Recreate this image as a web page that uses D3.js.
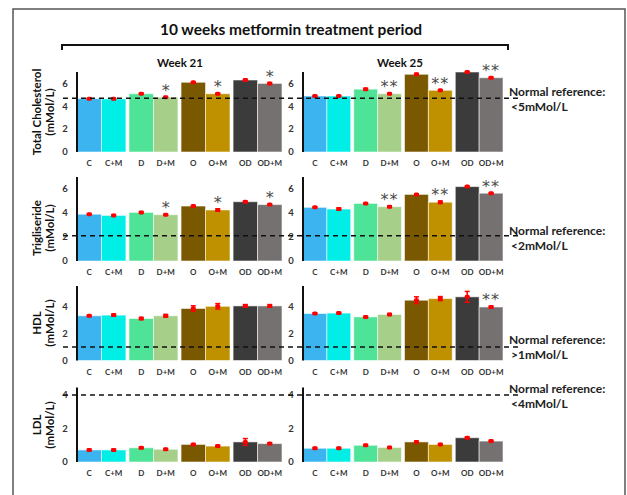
<!DOCTYPE html>
<html>
<head>
<meta charset="utf-8">
<script src="https://cdn.jsdelivr.net/npm/d3@7"></script>
<style>
  html, body { margin: 0; padding: 0; background: #fff; }
  svg { display: block; font-family: Lato, "Open Sans", sans-serif; }
</style>
</head>
<body>
<div id="chart"></div>
<script>
// groups and colours
const groups = ['C', 'C+M', 'D', 'D+M', 'O', 'O+M', 'OD', 'OD+M'];
const groupColors = ['#3cb4f0', '#00eee6', '#4ee396', '#a6d08a', '#7a5800', '#bf9000', '#3b3b3b', '#767171'];
const weeks = ['Week 21', 'Week 25'];

// total cholesterol (mMol/L)
const chol21 = [4.67, 4.65, 5.1, 4.8, 6.1, 5.1, 6.3, 6.0];
const chol25 = [4.9, 4.9, 5.5, 5.1, 6.8, 5.4, 7.0, 6.5];
const cholErr21 = [0.05, 0.05, 0.05, 0.05, 0.05, 0.05, 0.08, 0.08];
const cholErr25 = [0.05, 0.05, 0.08, 0.05, 0.08, 0.05, 0.05, 0.05];
const cholStars21 = ['', '', '', '*', '', '*', '', '*'];
const cholStars25 = ['', '', '', '**', '', '**', '', '**'];

// trigliseride
const trig21 = [3.9, 3.8, 4.05, 3.86, 4.58, 4.25, 4.94, 4.7];
const trig25 = [4.47, 4.33, 4.8, 4.53, 5.55, 4.9, 6.2, 5.65];
const trigErr21 = [0.05, 0.07, 0.07, 0.05, 0.05, 0.1, 0.05, 0.05];
const trigErr25 = [0.05, 0.1, 0.05, 0.07, 0.05, 0.1, 0.05, 0.05];
const trigStars21 = ['', '', '', '*', '', '*', '', '*'];
const trigStars25 = ['', '', '', '**', '', '**', '', '**'];

// HDL
const hdl21 = [3.3, 3.35, 3.1, 3.3, 3.84, 4.0, 4.03, 4.03];
const hdl25 = [3.47, 3.5, 3.22, 3.4, 4.45, 4.57, 4.7, 3.95];
const hdlErr21 = [0.05, 0.08, 0.08, 0.1, 0.2, 0.2, 0.1, 0.1];
const hdlErr25 = [0.05, 0.05, 0.05, 0.07, 0.25, 0.15, 0.4, 0.07];
const hdlStars21 = ['', '', '', '', '', '', '', ''];
const hdlStars25 = ['', '', '', '', '', '', '', '**'];

// LDL
const ldl21 = [0.72, 0.72, 0.85, 0.76, 1.05, 0.95, 1.2, 1.1];
const ldl25 = [0.82, 0.82, 1.0, 0.87, 1.2, 1.05, 1.45, 1.25];
const ldlErr21 = [0.05, 0.05, 0.05, 0.05, 0.05, 0.05, 0.2, 0.05];
const ldlErr25 = [0.05, 0.05, 0.05, 0.05, 0.05, 0.05, 0.05, 0.05];
const ldlStars21 = ['', '', '', '', '', '', '', ''];
const ldlStars25 = ['', '', '', '', '', '', '', ''];

// axis and reference settings
const panelTitles = [['Total Cholesterol', '(mMol/L)'], ['Trigliseride', '(mMol/L)'], ['HDL', '(mMol/L)'], ['LDL', '(mMol/L)']];
const panelMax = [7, 7, 5.5, 4.45];
const panelTicks = [[0, 2, 4, 6], [0, 2, 4, 6], [0, 2, 4], [0, 2, 4]];
const refValues = [4.7, 2.1, 1.0, 4.0];
const refLabels = ['<5mMol/L', '<2mMol/L', '>1mMol/L', '<4mMol/L'];

const panels = [
  { values: [chol21, chol25], errs: [cholErr21, cholErr25], stars: [cholStars21, cholStars25] },
  { values: [trig21, trig25], errs: [trigErr21, trigErr25], stars: [trigStars21, trigStars25] },
  { values: [hdl21, hdl25], errs: [hdlErr21, hdlErr25], stars: [hdlStars21, hdlStars25] },
  { values: [ldl21, ldl25], errs: [ldlErr21, ldlErr25], stars: [ldlStars21, ldlStars25] }
];

// layout
const width = 627, height = 495;
const rows = [
  { zero: 152, top: 72, titleY: 112, refY1: 92 },
  { zero: 261, top: 177, titleY: 228, refY1: 231 },
  { zero: 360.5, top: 286, titleY: 323, refY1: 340 },
  { zero: 462, top: 387.5, titleY: 425, refY1: 389 }
];
const cols = [[77, 282], [303, 503]];

const svg = d3.select('#chart').append('svg')
  .attr('width', width)
  .attr('height', height);

/* ---------- frame ---------- */
svg.append('rect')
  .attr('x', 13).attr('y', 9)
  .attr('width', 612).attr('height', 500)
  .attr('fill', 'none')
  .attr('stroke', '#555')
  .attr('stroke-width', 1.5);

/* ---------- header ---------- */
svg.append('text')
  .attr('x', 291).attr('y', 35)
  .attr('text-anchor', 'middle')
  .attr('font-size', 15.5)
  .attr('font-weight', 'bold')
  .attr('fill', '#111')
  .text('10 weeks metformin treatment period');

svg.append('path')
  .attr('d', 'M62,50 L62,45 L508,45 L508,50')
  .attr('fill', 'none')
  .attr('stroke', '#111')
  .attr('stroke-width', 2);

cols.forEach((c, wi) => {
  svg.append('text')
    .attr('x', wi === 0 ? 180 : 400).attr('y', 67)
    .attr('text-anchor', 'middle')
    .attr('font-size', 11.5)
    .attr('font-weight', 'bold')
    .attr('fill', '#111')
    .text(weeks[wi]);
});

const pairs = [0, 1, 2, 3];

panels.forEach((p, pi) => {
  const row = rows[pi];
  const y = d3.scaleLinear().domain([0, panelMax[pi]]).range([row.zero, row.top]);

  // y title
  const tg = svg.append('g')
    .attr('transform', 'translate(43,' + row.titleY + ') rotate(-90)');
  tg.append('text')
    .attr('text-anchor', 'middle')
    .attr('y', -2)
    .attr('font-size', 11.5)
    .attr('font-weight', 'bold')
    .attr('fill', '#111')
    .text(panelTitles[pi][0]);
  tg.append('text')
    .attr('text-anchor', 'middle')
    .attr('y', 11)
    .attr('font-size', 11.5)
    .attr('font-weight', 'bold')
    .attr('fill', '#111')
    .text(panelTitles[pi][1]);

  cols.forEach((range, wi) => {
    const pairScale = d3.scaleBand().domain(pairs).range(range).paddingInner(0.06).paddingOuter(0);
    const inner = d3.scaleBand().domain([0, 1]).range([0, pairScale.bandwidth()]);
    const xPos = i => pairScale(Math.floor(i / 2)) + inner(i % 2);
    const bw = inner.bandwidth();
    const g = svg.append('g');
    const vals = p.values[wi], errs = p.errs[wi], stars = p.stars[wi];

    // bars
    g.selectAll('rect.bar')
      .data(vals)
      .enter().append('rect')
      .attr('class', 'bar')
      .attr('x', (d, i) => xPos(i))
      .attr('y', d => y(d))
      .attr('width', bw)
      .attr('height', d => y(0) - y(d))
      .attr('fill', (d, i) => groupColors[i])
      .attr('stroke', 'rgba(255,255,255,0.55)')
      .attr('stroke-width', 1);

    // y axis line + tick labels
    g.append('line')
      .attr('x1', range[0]).attr('x2', range[0])
      .attr('y1', y(0)).attr('y2', y(panelMax[pi]))
      .attr('stroke', '#111')
      .attr('stroke-width', 2);

    g.selectAll('text.tick')
      .data(panelTicks[pi])
      .enter().append('text')
      .attr('class', 'tick')
      .attr('x', range[0] - 12)
      .attr('y', d => y(d))
      .attr('dy', '0.35em')
      .attr('text-anchor', 'middle')
      .attr('font-size', 9.5)
      .attr('font-weight', 'bold')
      .attr('fill', '#333')
      .text(d => d);

    // group labels
    g.selectAll('text.cat')
      .data(groups)
      .enter().append('text')
      .attr('class', 'cat')
      .attr('x', (d, i) => xPos(i) + bw / 2)
      .attr('y', y(0) + 14)
      .attr('text-anchor', 'middle')
      .attr('font-size', 8)
      .attr('font-weight', 'bold')
      .attr('fill', '#333')
      .text(d => d);

    // error bars
    vals.forEach((v, i) => {
      const cx = xPos(i) + bw / 2;
      const e = errs[i];
      g.append('line')
        .attr('x1', cx).attr('x2', cx)
        .attr('y1', y(v + e)).attr('y2', y(v - e))
        .attr('stroke', '#f00').attr('stroke-width', 1.5);
      g.append('line')
        .attr('x1', cx - 2.5).attr('x2', cx + 2.5)
        .attr('y1', y(v + e)).attr('y2', y(v + e))
        .attr('stroke', '#f00').attr('stroke-width', 1.5);
      g.append('line')
        .attr('x1', cx - 2.5).attr('x2', cx + 2.5)
        .attr('y1', y(v - e)).attr('y2', y(v - e))
        .attr('stroke', '#f00').attr('stroke-width', 1.5);
      g.append('rect')
        .attr('x', cx - 2.5).attr('y', y(v) - 2)
        .attr('width', 5).attr('height', 4)
        .attr('rx', 1.5)
        .attr('fill', '#f00');

      if (stars[i]) {
        g.append('text')
          .attr('x', cx)
          .attr('y', y(v + e) - 1)
          .attr('text-anchor', 'middle')
          .attr('font-family', '"DejaVu Sans", sans-serif')
          .attr('font-size', 16)
          .attr('letter-spacing', stars[i].length > 1 ? 1 : 0)
          .attr('fill', '#4a4a4a')
          .text(stars[i]);
      }
    });
  });

  // reference line
  svg.append('line')
    .attr('x1', 63).attr('x2', 518)
    .attr('y1', y(refValues[pi])).attr('y2', y(refValues[pi]))
    .attr('stroke', '#111')
    .attr('stroke-width', 1.6)
    .attr('stroke-dasharray', '5,4');

  svg.append('text')
    .attr('x', 509).attr('y', row.refY1 + 4)
    .attr('font-size', 12)
    .attr('font-weight', 'bold')
    .attr('fill', '#222')
    .text('Normal reference:');
  svg.append('text')
    .attr('x', 511).attr('y', row.refY1 + 19)
    .attr('font-size', 12)
    .attr('font-weight', 'bold')
    .attr('fill', '#222')
    .text(refLabels[pi]);
});
</script>
</body>
</html>
